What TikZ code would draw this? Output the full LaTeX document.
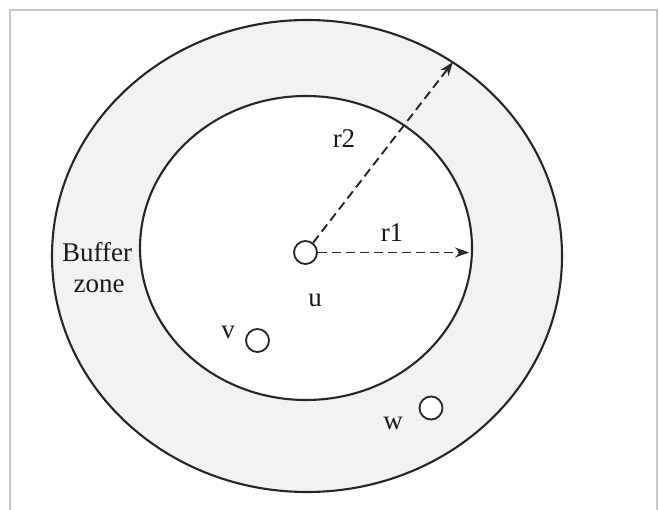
\documentclass[tikz,border=0pt]{standalone}
\usepackage{fontspec}
\setmainfont{Liberation Serif}
\usetikzlibrary{arrows.meta}
\definecolor{ringgray}{HTML}{F2F2F2}
\definecolor{framegray}{HTML}{C8C8C8}
\definecolor{linegray}{HTML}{262626}
\tikzset{
  zoneline/.style={draw=linegray, line width=2.1pt},
  pt/.style={circle, draw=linegray, line width=1.8pt, fill=white, inner sep=0pt, minimum size=23pt},
  lbl/.style={text=black!90, inner sep=0pt, font=\fontsize{27}{30}\selectfont},
  radius arrow/.style={draw=linegray, line width=1.9pt, dash pattern=on 9pt off 5pt, -{Stealth[open, length=14pt, width=10pt]}},
  frameline/.style={draw=framegray, line width=2pt}
}
\begin{document}
\begin{tikzpicture}[x=1pt, y=-1pt]
\useasboundingbox (0,0) rectangle (659,510);
% frame
\draw[frameline] (10,510) -- (10,10) -- (657,10) -- (657,510);
% outer and inner zone
\path[zoneline, fill=ringgray] (307,256) ellipse [x radius=255, y radius=236];
\path[zoneline, fill=white] (306,248) ellipse [x radius=166, y radius=152];
% points
\node[pt] (u) at (305.5,252.5) {};
\node[pt] (v) at (257.5,340.5) {};
\node[pt] (w) at (431,408) {};
% arrow ends
\coordinate (r1end) at (469,252.5);
\coordinate (r2end) at (453,62);
\draw[radius arrow] (u.east) -- (r1end);
\draw[radius arrow] (u.52) -- (r2end);
% labels
\node[lbl] (r1lbl) at (392,233) {r1};
\node[lbl] (r2lbl) at (344,139) {r2};
\node[lbl] (ulbl) at (315,300) {u};
\node[lbl] (vlbl) at (228,332) {v};
\node[lbl] (wlbl) at (393,423) {w};
\node[lbl] (bufflbl) at (97,252) {Buffer};
\node[lbl] (zonelbl) at (99,286) {zone};
\end{tikzpicture}
\end{document}
